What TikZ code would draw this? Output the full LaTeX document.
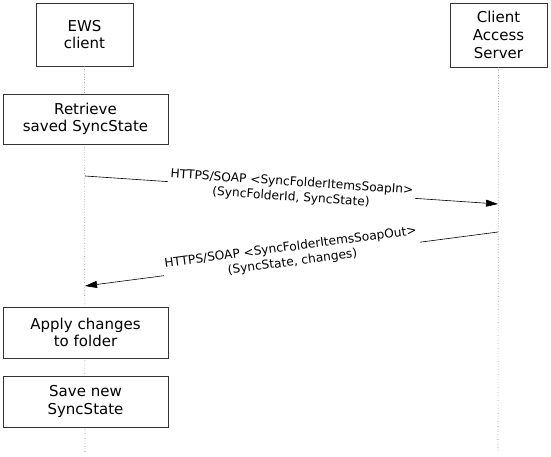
\documentclass[tikz,border=0pt]{standalone}
\usepackage{fontspec}
\setmainfont{DejaVu Sans}
\usetikzlibrary{arrows.meta,calc}
\begin{document}
\begin{tikzpicture}[x=1pt,y=-1pt,
  box/.style={draw=black!80,line width=0.7pt,fill=white,align=center,font=\fontsize{15}{17.6}\selectfont,inner sep=0pt},
  life/.style={draw=black!50,line width=0.6pt,dotted},
  msg/.style={draw=black,line width=0.6pt,-{Triangle[length=12pt,width=7pt]}},
  lbl/.style={fill=white,align=center,font=\fontsize{12.2}{15}\selectfont,inner sep=2pt}]
\useasboundingbox (0,0) rectangle (551,457);
\coordinate (ewsbot) at (85,452);
\coordinate (casbot) at (498,452);
\node[box,minimum width=97pt,minimum height=63pt] (ews) at (84.5,34.5) {EWS\\client};
\node[box,minimum width=97pt,minimum height=64pt] (cas) at (498.5,35) {Client\\Access\\Server};
\draw[life] (ews.south) -- (ewsbot);
\draw[life] (cas.south) -- (casbot);
\node[box,minimum width=165pt,minimum height=50pt] (ret) at (85.5,119) {Retrieve\\saved SyncState};
\node[box,minimum width=165pt,minimum height=51pt] (app) at (85.5,332.5) {Apply changes\\to folder};
\node[box,minimum width=165pt,minimum height=51pt] (sav) at (85.5,401.5) {Save new\\SyncState};
\coordinate (a1s) at (85,176);
\coordinate (a1e) at (498,204);
\coordinate (a2s) at (498,232);
\coordinate (a2e) at (85,286);
\draw[msg] (a1s) -- (a1e);
\node[lbl,rotate=-3.88] (l1) at ($(a1s)!0.5!(a1e)$) {HTTPS/SOAP <SyncFolderItemsSoapIn>\\(SyncFolderId, SyncState)};
\draw[msg] (a2s) -- (a2e);
\node[lbl,rotate=7.45] (l2) at ($(a2s)!0.5!(a2e)+(0,-4)$) {HTTPS/SOAP <SyncFolderItemsSoapOut>\\(SyncState, changes)};
\end{tikzpicture}
\end{document}
